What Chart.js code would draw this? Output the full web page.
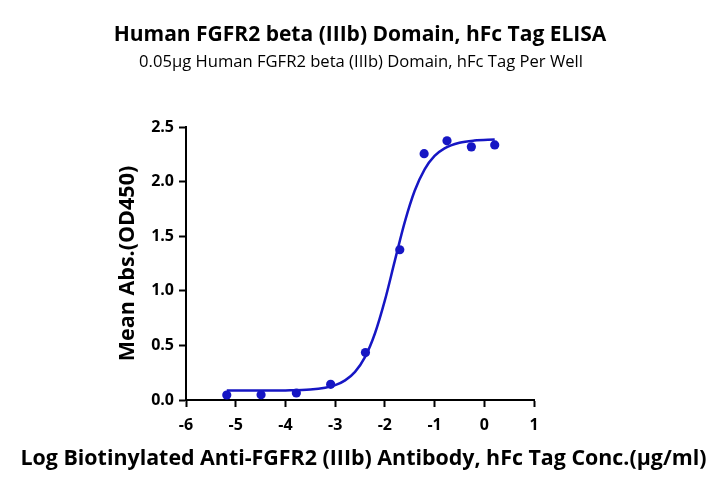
<!DOCTYPE html>
<html>
<head>
<meta charset="utf-8">
<script src="https://cdn.jsdelivr.net/npm/chart.js@4.4.1/dist/chart.umd.min.js"></script>
<style>
  html, body { margin: 0; padding: 0; background: #fff; }
  #wrap { width: 720px; height: 491px; }
</style>
</head>
<body>
<div id="wrap"><canvas id="c" width="720" height="491"></canvas></div>
<script>
// Measured points: log concentration (µg/ml) vs mean absorbance
const logConc = [-5.18, -4.49, -3.78, -3.09, -2.39, -1.70, -1.21, -0.75, -0.26, 0.21];
const meanAbs = [0.046, 0.049, 0.064, 0.144, 0.434, 1.376, 2.256, 2.373, 2.318, 2.336];

// Fitted curve
const curveX = [-5.18, -4.5, -4.0, -3.5, -3.2, -3.0, -2.8, -2.6, -2.4, -2.2, -2.0, -1.8, -1.6, -1.4, -1.2, -1.0, -0.8, -0.5, -0.2, 0.21];
const curveY = [0.086, 0.086, 0.088, 0.096, 0.113, 0.136, 0.180, 0.258, 0.393, 0.609, 0.912, 1.274, 1.629, 1.916, 2.113, 2.235, 2.305, 2.356, 2.376, 2.385];

const xTicks = [-6, -5, -4, -3, -2, -1, 0, 1];
const yTicks = [0.0, 0.5, 1.0, 1.5, 2.0, 2.5];

const titleText = 'Human FGFR2 beta (IIIb) Domain, hFc Tag ELISA';
const subtitleText = '0.05\u00b5g Human FGFR2 beta (IIIb) Domain, hFc Tag Per Well';
const xTitle = 'Log Biotinylated Anti-FGFR2 (IIIb) Antibody, hFc Tag Conc.(\u00b5g/ml)';
const yTitle = 'Mean Abs.(OD450)';

const BLUE = '#1616c4';
const FONT = "'Open Sans', 'Noto Sans', sans-serif";

const curveData = curveX.map((x, i) => ({ x: x, y: curveY[i] }));
const pointData = logConc.map((x, i) => ({ x: x, y: meanAbs[i] }));

// Draws page-wide text lines (titles wider than the plot area, as in the reference)
const pageTextPlugin = {
  id: 'pageText',
  afterDraw(chart, args, opts) {
    const ctx = chart.ctx;
    ctx.save();
    ctx.fillStyle = '#000';
    ctx.textAlign = 'center';
    ctx.textBaseline = 'middle';
    for (const t of opts.items) {
      ctx.font = t.weight + ' ' + t.size + 'px ' + FONT;
      ctx.fillText(t.text, t.cx, t.cy);
    }
    ctx.restore();
  }
};

new Chart(document.getElementById('c'), {
  type: 'scatter',
  data: {
    datasets: [
      {
        label: 'Fit',
        data: curveData,
        showLine: true,
        borderColor: BLUE,
        borderWidth: 2.5,
        pointRadius: 0,
        cubicInterpolationMode: 'monotone',
        fill: false
      },
      {
        label: 'Data',
        data: pointData,
        showLine: false,
        backgroundColor: BLUE,
        borderColor: BLUE,
        pointRadius: 4.6,
        borderWidth: 0
      }
    ]
  },
  plugins: [pageTextPlugin],
  options: {
    responsive: false,
    animation: false,
    devicePixelRatio: 1,
    layout: { padding: { left: 111, right: 186, top: 127, bottom: 15 } },
    plugins: {
      legend: { display: false },
      tooltip: { enabled: false },
      title: { display: false },
      subtitle: { display: false },
      pageText: {
        items: [
          { text: titleText, size: 21, weight: 'bold', cx: 360, cy: 35 },
          { text: subtitleText, size: 16.6, weight: 'normal', cx: 361, cy: 62 },
          { text: xTitle, size: 21.4, weight: 'bold', cx: 363.5, cy: 459 }
        ]
      }
    },
    scales: {
      x: {
        type: 'linear',
        min: -6,
        max: 1,
        afterBuildTicks: (s) => { s.ticks = xTicks.map(v => ({ value: v })); },
        afterFit: (s) => { s.height = 76; },
        ticks: {
          color: '#000',
          font: { family: FONT, size: 16, weight: 'bold' },
          padding: 9,
          callback: (v) => String(v)
        },
        grid: {
          display: true,
          drawOnChartArea: false,
          drawTicks: true,
          tickLength: 7,
          tickWidth: 2,
          tickColor: '#000'
        },
        border: { display: true, color: '#000', width: 2 },
        title: { display: false }
      },
      y: {
        type: 'linear',
        min: 0,
        max: 2.5,
        afterBuildTicks: (s) => { s.ticks = yTicks.map(v => ({ value: v })); },
        afterFit: (s) => { s.width = 75; },
        ticks: {
          color: '#000',
          font: { family: FONT, size: 16, weight: 'bold' },
          padding: 5,
          callback: (v) => Number(v).toFixed(1)
        },
        grid: {
          display: true,
          drawOnChartArea: false,
          drawTicks: true,
          tickLength: 7,
          tickWidth: 2,
          tickColor: '#000'
        },
        border: { display: true, color: '#000', width: 2 },
        title: {
          display: true,
          text: yTitle,
          color: '#000',
          font: { family: FONT, size: 21.5, weight: 'bold' },
          padding: { top: 4, bottom: 4 }
        }
      }
    }
  }
});
</script>
</body>
</html>
